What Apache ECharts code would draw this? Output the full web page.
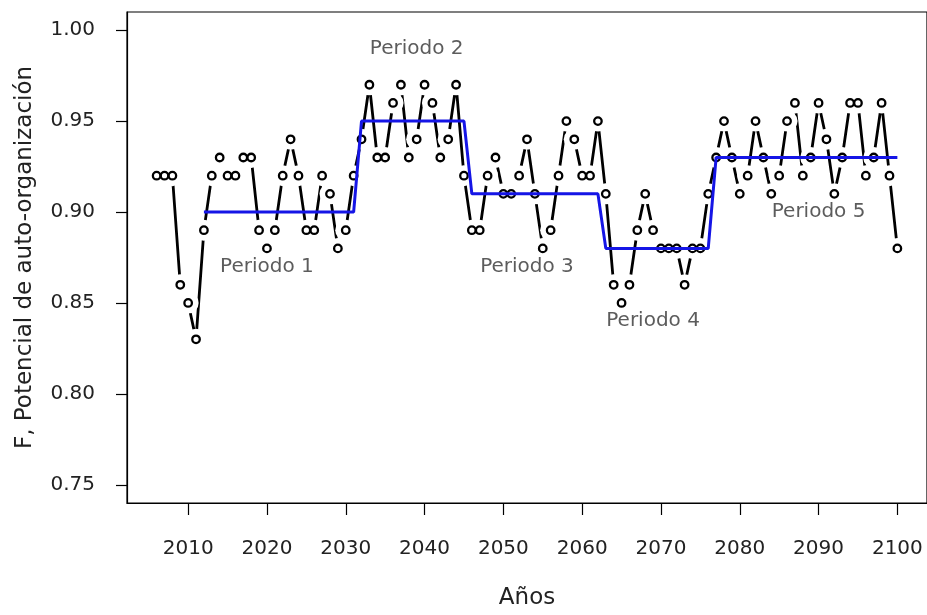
<!DOCTYPE html>
<html>
<head>
<meta charset="utf-8">
<title>Potencial de auto-organización</title>
<script src="https://cdn.jsdelivr.net/npm/echarts@6/dist/echarts.min.js"></script>
<style>
  html, body { margin: 0; padding: 0; background: #fff; }
  #main { width: 927px; height: 615px; }
</style>
</head>
<body>
<div id="main"></div>
<script>
/*年份*/
var years = [2006, 2007, 2008, 2009, 2010, 2011, 2012, 2013, 2014, 2015,
    2016, 2017, 2018, 2019, 2020, 2021, 2022, 2023, 2024, 2025,
    2026, 2027, 2028, 2029, 2030, 2031, 2032, 2033, 2034, 2035,
    2036, 2037, 2038, 2039, 2040, 2041, 2042, 2043, 2044, 2045,
    2046, 2047, 2048, 2049, 2050, 2051, 2052, 2053, 2054, 2055,
    2056, 2057, 2058, 2059, 2060, 2061, 2062, 2063, 2064, 2065,
    2066, 2067, 2068, 2069, 2070, 2071, 2072, 2073, 2074, 2075,
    2076, 2077, 2078, 2079, 2080, 2081, 2082, 2083, 2084, 2085,
    2086, 2087, 2088, 2089, 2090, 2091, 2092, 2093, 2094, 2095,
    2096, 2097, 2098, 2099, 2100];
/*F 值*/
var fValues = [0.92, 0.92, 0.92, 0.86, 0.85, 0.83, 0.89, 0.92, 0.93, 0.92,
    0.92, 0.93, 0.93, 0.89, 0.88, 0.89, 0.92, 0.94, 0.92, 0.89,
    0.89, 0.92, 0.91, 0.88, 0.89, 0.92, 0.94, 0.97, 0.93, 0.93,
    0.96, 0.97, 0.93, 0.94, 0.97, 0.96, 0.93, 0.94, 0.97, 0.92,
    0.89, 0.89, 0.92, 0.93, 0.91, 0.91, 0.92, 0.94, 0.91, 0.88,
    0.89, 0.92, 0.95, 0.94, 0.92, 0.92, 0.95, 0.91, 0.86, 0.85,
    0.86, 0.89, 0.91, 0.89, 0.88, 0.88, 0.88, 0.86, 0.88, 0.88,
    0.91, 0.93, 0.95, 0.93, 0.91, 0.92, 0.95, 0.93, 0.91, 0.92,
    0.95, 0.96, 0.92, 0.93, 0.96, 0.94, 0.91, 0.93, 0.96, 0.96,
    0.92, 0.93, 0.96, 0.92, 0.88];
/*各时期均值(蓝线)*/
var periodStart = [2012, 2032, 2046, 2063, 2077];
var periodEnd = [2031, 2045, 2062, 2076, 2100];
var periodMean = [0.90, 0.95, 0.91, 0.88, 0.93];
/*时期标注*/
var periodNames = ['Periodo 1', 'Periodo 2', 'Periodo 3', 'Periodo 4', 'Periodo 5'];
var periodLabelYear = [2020, 2039, 2053, 2069, 2090];
var periodLabelValue = [0.87, 0.99, 0.87, 0.84, 0.90];
/*刻度*/
var xTicks = [2010, 2020, 2030, 2040, 2050, 2060, 2070, 2080, 2090, 2100];
var yTicks = [0.75, 0.80, 0.85, 0.90, 0.95, 1.00];

var FONT = 'DejaVu Sans';
var FS = 20;      //刻度、标注字号
var FS_NAME = 23; //轴标题字号

var pts = [];
for (var i = 0; i < years.length; i++) {
    pts.push([years[i], fValues[i]]);
}
var meanLine = [];
for (var j = 0; j < periodStart.length; j++) {
    meanLine.push([periodStart[j], periodMean[j]]);
    meanLine.push([periodEnd[j], periodMean[j]]);
}
var labelPts = [];
for (var k = 0; k < periodNames.length; k++) {
    labelPts.push({value: [periodLabelYear[k], periodLabelValue[k]], name: periodNames[k]});
}

var chart = echarts.init(document.getElementById('main'), null, {renderer: 'canvas'});
chart.setOption({
    backgroundColor: '#fff',
    animation: false,
    grid: {
        left: 127, top: 12, width: 804, height: 493,
        show: true, borderColor: '#000', borderWidth: 1.2, backgroundColor: 'transparent'
    },
    xAxis: {
        type: 'value', min: 2002.24, max: 2103.76,
        name: 'Años', nameLocation: 'middle', nameGap: 84,
        nameTextStyle: {fontFamily: FONT, fontSize: FS_NAME, color: '#222'},
        axisLine: {show: true, lineStyle: {color: '#000', width: 1.2}},
        axisTick: {show: true, length: 12, customValues: xTicks, lineStyle: {color: '#000', width: 1.2}},
        axisLabel: {
            customValues: xTicks, margin: 36, fontFamily: FONT, fontSize: FS, color: '#222',
            formatter: function (v) { return String(v); }
        },
        splitLine: {show: false}
    },
    yAxis: {
        type: 'value', min: 0.74, max: 1.01,
        name: 'F, Potencial de auto-organización', nameLocation: 'middle', nameGap: 90, nameRotate: 90,
        nameTextStyle: {fontFamily: FONT, fontSize: FS_NAME, color: '#222'},
        axisLine: {show: true, lineStyle: {color: '#000', width: 1.2}},
        axisTick: {show: true, length: 11, customValues: yTicks, lineStyle: {color: '#000', width: 1.2}},
        axisLabel: {
            customValues: yTicks, margin: 32, fontFamily: FONT, fontSize: FS, color: '#222',
            formatter: function (v) { return v.toFixed(2); }
        },
        splitLine: {show: false}
    },
    series: [
        /*黑色折线, 白色圆盘盖住点附近的线段 (type="b" 效果)*/
        {
            type: 'line', data: pts, z: 2, silent: true,
            showSymbol: true, showAllSymbol: true, symbol: 'circle', symbolSize: 21,
            itemStyle: {color: '#fff', borderWidth: 0},
            lineStyle: {color: '#000', width: 2.8}
        },
        /*空心圆点*/
        {
            type: 'scatter', data: pts, symbol: 'circle', symbolSize: 7.5, z: 4, silent: true,
            itemStyle: {color: 'rgba(0,0,0,0)', borderColor: '#000', borderWidth: 2.3, opacity: 1}
        },
        /*时期均值*/
        {
            type: 'line', data: meanLine, showSymbol: false, z: 5, silent: true,
            lineStyle: {color: '#1515e6', width: 3}
        },
        /*时期标注*/
        {
            type: 'scatter', data: labelPts, symbolSize: 1, z: 6, silent: true,
            itemStyle: {color: 'rgba(0,0,0,0)'},
            label: {
                show: true, position: 'inside', formatter: '{b}',
                fontFamily: FONT, fontSize: FS, color: '#333'
            }
        }
    ]
});
</script>
</body>
</html>
